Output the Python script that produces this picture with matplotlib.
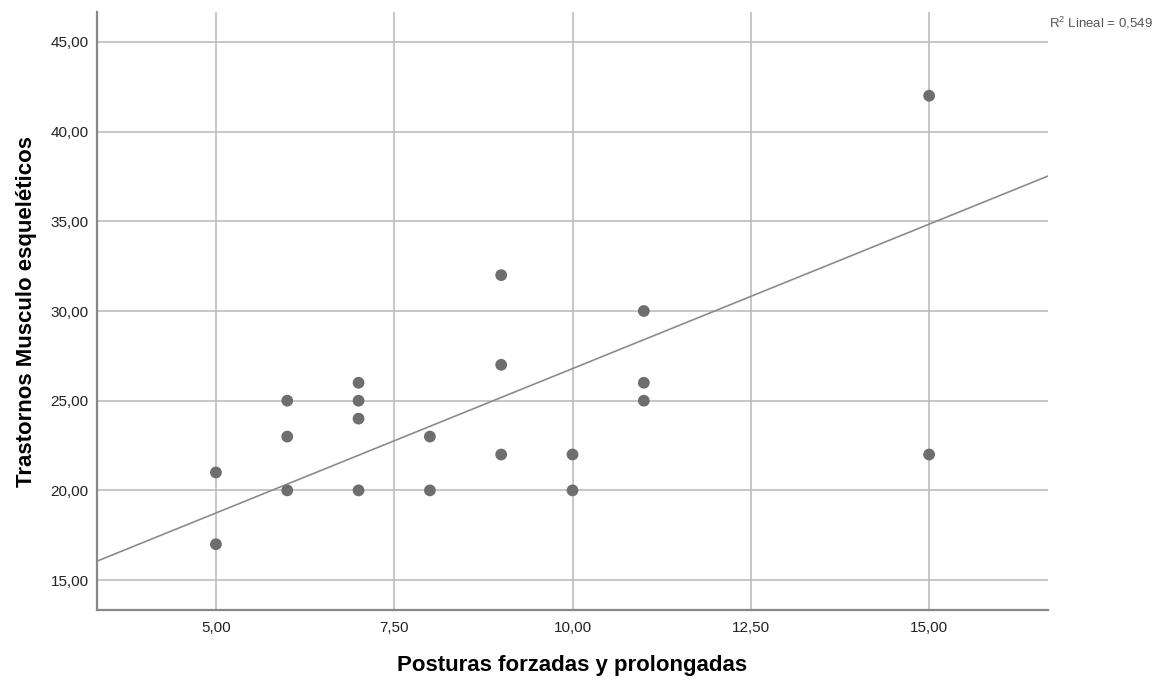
import numpy as np
import matplotlib
matplotlib.use('Agg')
import matplotlib.pyplot as plt

# puntos
posturas = [5, 5, 6, 6, 6, 7, 7, 7, 7, 8, 8, 9, 9, 9, 10, 10, 11, 11, 11, 15, 15]
trastornos = [21, 17, 25, 23, 20, 26, 25, 24, 20, 23, 20, 32, 27, 22, 22, 20, 30, 26, 25, 42, 22]

# recta de ajuste (hay casos superpuestos)
fit_intercept = 10.69
fit_slope = 1.61
r2_label = 'R$^2$ Lineal = 0,549'

x_ticks = [5.0, 7.5, 10.0, 12.5, 15.0]
y_ticks = [15, 20, 25, 30, 35, 40, 45]

plt.rcParams['font.family'] = ['Liberation Sans', 'DejaVu Sans']
plt.rcParams['mathtext.fontset'] = 'custom'
plt.rcParams['mathtext.rm'] = 'Liberation Sans'

fig = plt.figure(figsize=(11.72, 6.83), dpi=100)
ax = fig.add_axes([0.0828, 0.1069, 0.8114, 0.8755])

ax.set_xlim(3.333, 16.667)
ax.set_ylim(13.333, 46.667)

ax.set_xticks(x_ticks)
ax.set_yticks(y_ticks)
ax.set_xticklabels([('%.2f' % v).replace('.', ',') for v in x_ticks])
ax.set_yticklabels([('%.2f' % v).replace('.', ',') for v in y_ticks])
ax.tick_params(length=0, labelsize=11, colors='#222222')
ax.tick_params(axis='y', pad=6)
ax.tick_params(axis='x', pad=8)

ax.grid(True, color='#bdbdbd', linewidth=1.2)
ax.set_axisbelow(True)
for s in ['top', 'right']:
	ax.spines[s].set_visible(False)
for s in ['left', 'bottom']:
	ax.spines[s].set_color('#888888')
	ax.spines[s].set_linewidth(1.6)

xx = np.array(ax.get_xlim())
ax.plot(xx, fit_intercept + fit_slope * xx, color='#8c8c8c', linewidth=1.2, zorder=2)

ax.scatter(posturas, trastornos, s=72, color='#6e6e6e', edgecolors='none', zorder=3)

ax.set_xlabel('Posturas forzadas y prolongadas', fontsize=16, fontweight='bold', labelpad=14)
ax.set_ylabel('Trastornos Musculo esqueléticos', fontsize=16, fontweight='bold', labelpad=10)

fig.text(0.8951, 0.966, r2_label, fontsize=9.5, color='#555555', ha='left', va='center')

fig.savefig('out.png', dpi=100)
